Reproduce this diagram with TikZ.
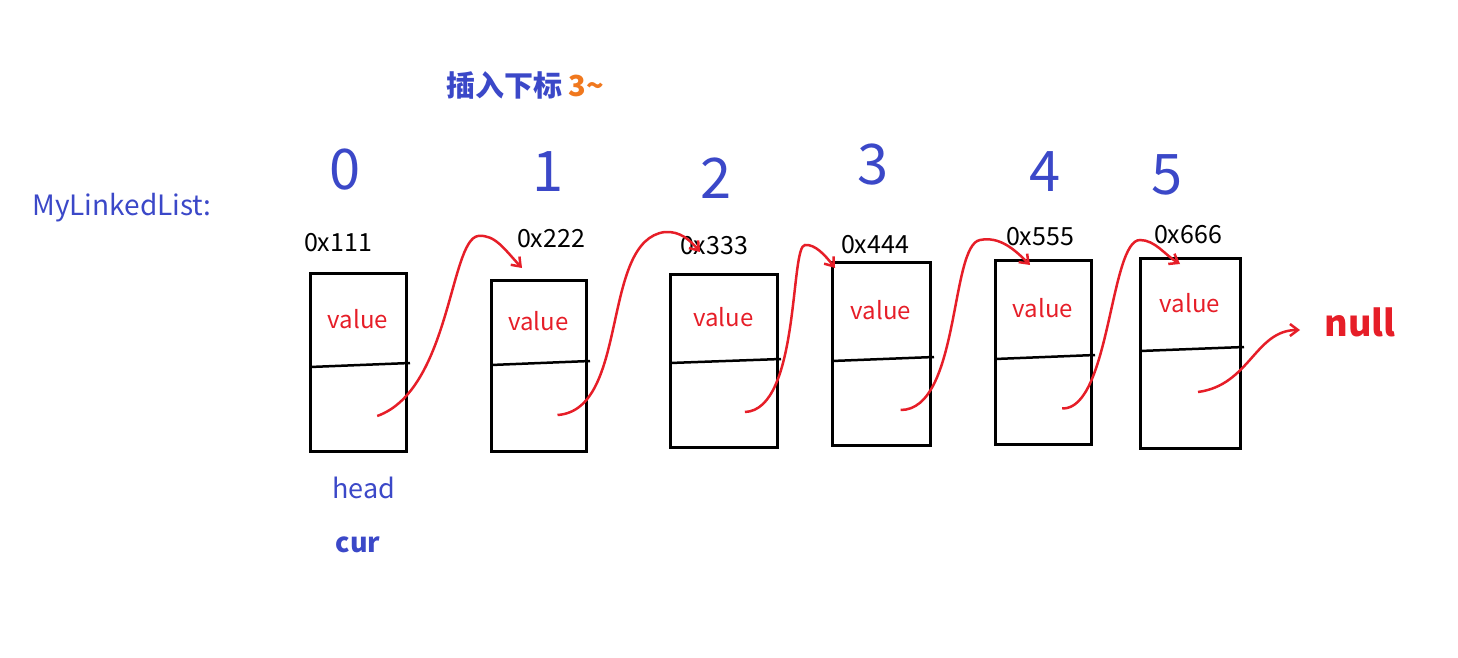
\documentclass[tikz,border=0pt]{standalone}
\usepackage{fontspec}
\setmainfont{Noto Sans CJK SC}
\usetikzlibrary{arrows.meta}
\definecolor{bl}{RGB}{59,72,200}
\definecolor{rd}{RGB}{230,30,40}
\definecolor{og}{RGB}{240,120,30}
\tikzset{box/.style={draw,line width=3pt},
 div/.style={draw,line width=2.5pt},
 val/.style={text=rd,font=\fontsize{24}{26}\selectfont},
 addr/.style={font=\fontsize{25}{27}\selectfont},
 dig/.style={text=bl,font=\fontsize{56}{56}\selectfont},
 link/.style={draw=rd,line width=2.5pt,-{Straight Barb[length=8pt,width=12pt]}}}
\begin{document}
\begin{tikzpicture}[x=1pt,y=-1pt]
\useasboundingbox (0,0) rectangle (1458,658);
\node[text=bl,font=\fontsize{28}{30}\selectfont] (mll) at (122,208) {MyLinkedList:};
\node[font=\bfseries\fontsize{29}{32}\selectfont] (title) at (525,85) {\textcolor{bl}{插入下标} \textcolor{og}{3\textasciitilde}};
\foreach \i/\l/\t/\r/\b/\dv/\ax/\ay/\dx/\dy/\a in {
 0/310/273/406/451/365/338/243/345/170/0x111,
 1/491/280/586/451/363/551/239/548/172/0x222,
 2/670/274/777/447/361/714/246/716/178/0x333,
 3/832/262/930/445/359/875/245/873/165/0x444,
 4/995/260/1091/444/357/1040/237/1045/172/0x555,
 5/1140/258/1240/448/349/1188/235/1167/175/0x666}{
 \draw[box] (\l,\t) rectangle (\r,\b);
 \coordinate (b\i) at (\l,\t);
 \draw[div] (\l,\dv+2) -- (\r+4,\dv-2);
 \node[val] (v\i) at ({(\l+\r)/2},{(\t+\dv)/2}) {value};
 \node[addr] (a\i) at (\ax,\ay) {\a};
 \node[dig] (d\i) at (\dx,\dy) {\i};
 \coordinate (s\i) at ({\l+(\r-\l)*0.7},{(\dv+\b)/2+8});
}
\draw[link] (s0) .. controls (450,390) and (450,240) .. (478,236) .. controls (495,234) and (505,250) .. (522,268);
\draw[link] (s1) .. controls (630,410) and (600,240) .. (665,232) .. controls (680,231) and (690,240) .. (700,252);
\draw[link] (s2) .. controls (800,410) and (790,245) .. (805,245) .. controls (815,244) and (825,255) .. (835,268);
\draw[link] (s3) .. controls (960,410) and (950,245) .. (980,240) .. controls (1000,236) and (1015,250) .. (1030,265);
\draw[link] (s4) .. controls (1110,410) and (1110,240) .. (1140,240) .. controls (1155,240) and (1165,255) .. (1180,264);
\coordinate (nl) at (1300,330);
\draw[link] (1198,392) .. controls (1250,385) and (1255,330) .. (nl);
\node[text=rd,font=\bfseries\fontsize{36}{38}\selectfont] (null) at (1360,322) {null};
\node[text=bl,font=\fontsize{27}{30}\selectfont] (head) at (364,488) {head};
\node[text=bl,font=\bfseries\fontsize{27}{30}\selectfont] (cur) at (358,545) {cur};
\end{tikzpicture}
\end{document}
